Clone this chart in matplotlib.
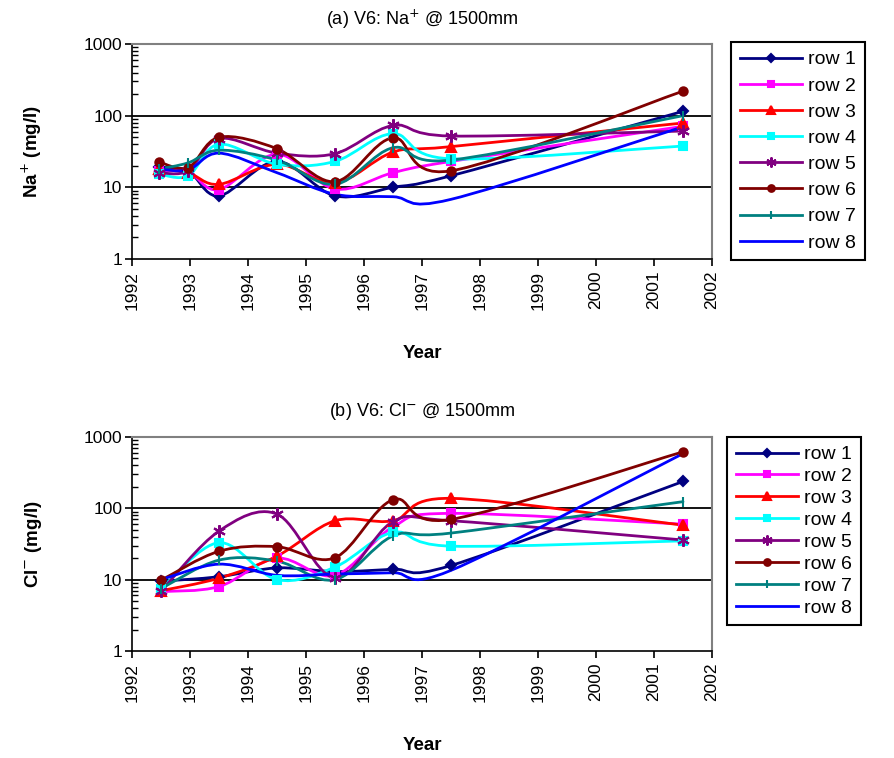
import numpy as np
import matplotlib
matplotlib.use('Agg')
import matplotlib.pyplot as plt
from matplotlib.path import Path
from matplotlib.patches import PathPatch
from matplotlib.lines import Line2D
from matplotlib.ticker import LogLocator, FixedLocator, NullFormatter

plt.rcParams['font.family'] = ['Liberation Sans', 'DejaVu Sans']

# ---------------- data ----------------
years_na = [1992.47, 1992.97, 1993.5, 1994.5, 1995.5, 1996.5, 1997.5, 2001.5]
years_cl = [1992.5, 1993.5, 1994.5, 1995.5, 1996.5, 1997.5, 2001.5]

rows = ['row 1', 'row 2', 'row 3', 'row 4', 'row 5', 'row 6', 'row 7', 'row 8']

na_row1 = [19, 17, 7.6, 23, 7.6, 10, 14.5, 115]
na_row2 = [17, 16.5, 9.3, 29, 9.5, 16, 23, 71]
na_row3 = [18, 16, 11, 21, 11.5, 31, 37, 79]
na_row4 = [15.3, 14.5, 40, 21, 23, 56, 25, 37.7]
na_row5 = [16, 17, 48, 30, 29.5, 73, 52, 61]
na_row6 = [22.6, 18.9, 50, 34.6, 12, 49, 17, 220]
na_row7 = [18, 22, 33, 24, 11, 35.7, 24, 100]
na_row8 = [18, 17.5, 30, 16, 8, 7.4, 6.8, 70]

cl_row1 = [9.5, 11, 14.6, 13, 14, 15.8, 238]
cl_row2 = [6.8, 8, 20, 11.5, 55, 85, 60]
cl_row3 = [7, 10.5, 21.4, 67, 67, 138, 58]
cl_row4 = [7.5, 33, 10, 15, 46, 29.5, 35]
cl_row5 = [6.9, 48, 83, 10.6, 65, 67, 36]
cl_row6 = [9.8, 25, 29, 20.3, 132, 70, 620]
cl_row7 = [7.5, 18.8, 18.2, 10, 41, 45, 124]
cl_row8 = [10, 16.5, 11.5, 12, 12.5, 13.5, 585]

na_data = [na_row1, na_row2, na_row3, na_row4, na_row5, na_row6, na_row7, na_row8]
cl_data = [cl_row1, cl_row2, cl_row3, cl_row4, cl_row5, cl_row6, cl_row7, cl_row8]

COLORS = ['#000080', '#FF00FF', '#FF0000', '#00FFFF', '#800080', '#800000', '#008080', '#0000FF']
MARKERS = ['D', 's', '^', 's', (6, 2, 0), 'o', '|', None]
MSIZES = [5, 6, 7, 6, 9, 6, 7, 0]


def smooth_path(xs, ys):
    """Excel-style smoothed line: Catmull-Rom Bezier in (x, log y) space."""
    pts = np.column_stack([xs, np.log10(ys)])
    n = len(pts)
    verts = [pts[0]]
    codes = [Path.MOVETO]
    for i in range(n - 1):
        p0 = pts[max(i - 1, 0)]
        p1 = pts[i]
        p2 = pts[i + 1]
        p3 = pts[min(i + 2, n - 1)]
        verts += [p1 + (p2 - p0) / 6, p2 - (p3 - p1) / 6, p2]
        codes += [Path.CURVE4] * 3
    verts = np.array(verts)
    verts[:, 1] = 10 ** verts[:, 1]
    return Path(verts, codes)


def draw_panel(ax, years, data, title, ylabel, legend_anchor, spacing, tpad):
    for vals, c, m, ms in zip(data, COLORS, MARKERS, MSIZES):
        ax.add_patch(PathPatch(smooth_path(years, vals), fc='none', ec=c,
                               lw=2, zorder=3, capstyle='round', joinstyle='round'))
        if m:
            ax.plot(years, vals, ls='none', marker=m, color=c, ms=ms,
                    mew=1.5, zorder=4)
    ax.set_yscale('log')
    ax.set_ylim(1, 1000)
    ax.set_xlim(1992, 2002)
    ax.xaxis.set_major_locator(FixedLocator(range(1992, 2003)))
    ax.set_xticklabels([str(y) for y in range(1992, 2003)], rotation=90)
    ax.yaxis.set_major_locator(FixedLocator([1, 10, 100, 1000]))
    ax.set_yticklabels(['1', '10', '100', '1000'])
    ax.yaxis.set_minor_locator(LogLocator(base=10, subs=np.arange(2, 10)))
    ax.yaxis.set_minor_formatter(NullFormatter())
    ax.tick_params(axis='both', which='major', labelsize=12.5, direction='out',
                   length=5, width=1.2)
    ax.tick_params(axis='y', which='major', pad=2)
    ax.tick_params(axis='y', which='minor', direction='in', length=4, width=1)
    for v in (10, 100):
        ax.axhline(v, color='black', lw=1.3, zorder=1)
    for s in ('top', 'right'):
        ax.spines[s].set_color('#808080')
        ax.spines[s].set_linewidth(1.5)
    for s in ('left', 'bottom'):
        ax.spines[s].set_linewidth(1.2)
    ax.set_title(title, fontsize=13, pad=tpad)
    ax.set_ylabel(ylabel, fontsize=13.5, fontweight='bold')
    ax.yaxis.set_label_coords(-0.152, 0.5)
    ax.set_xlabel('Year', fontsize=13.5, fontweight='bold')
    ax.xaxis.set_label_coords(0.5, -0.40)

    handles = [Line2D([], [], color=c, lw=2, marker=m, ms=ms * 0.8, mew=1.5)
               for c, m, ms in zip(COLORS, MARKERS, MSIZES)]
    leg = fig.legend(handles, rows, loc='upper left', bbox_to_anchor=legend_anchor,
                     fontsize=14, frameon=True, fancybox=False, edgecolor='black',
                     framealpha=1, handlelength=3.2, handletextpad=0.3,
                     labelspacing=spacing, borderpad=0.45, borderaxespad=0)
    leg.get_frame().set_linewidth(1.5)


fig = plt.figure(figsize=(8.94, 7.58), dpi=100)
ax1 = fig.add_axes([132 / 894, 1 - 259 / 758, 580 / 894, 215 / 758])
ax2 = fig.add_axes([132 / 894, 1 - 651 / 758, 580 / 894, 214 / 758])

draw_panel(ax1, years_na, na_data, '(a) V6: Na$^{+}$ @ 1500mm', 'Na$^{+}$ (mg/l)',
           (731 / 894, 1 - 42 / 758), 0.44, 14)
draw_panel(ax2, years_cl, cl_data, '(b) V6: Cl$^{-}$ @ 1500mm', 'Cl$^{-}$ (mg/l)',
           (727 / 894, 1 - 437 / 758), 0.22, 15)

fig.savefig('out.png', dpi=100)
